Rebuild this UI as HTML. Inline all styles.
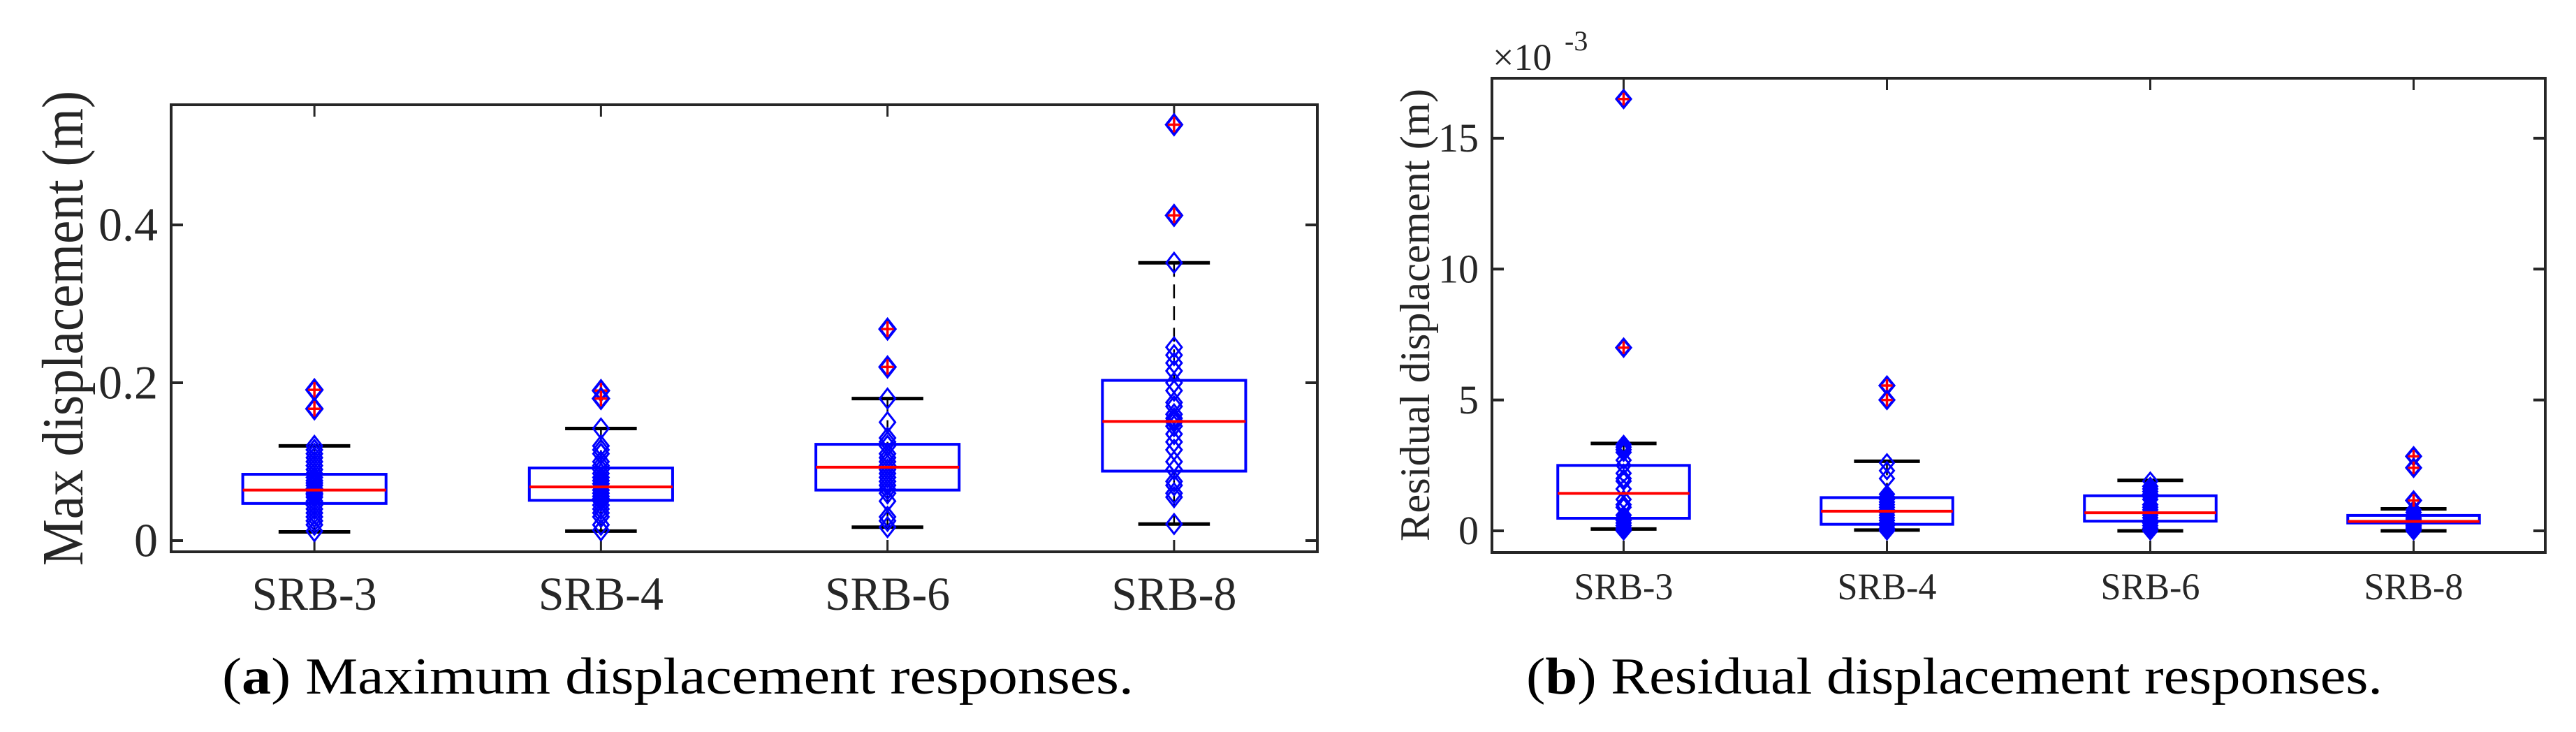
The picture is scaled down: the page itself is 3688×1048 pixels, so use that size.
<!DOCTYPE html>
<html><head><meta charset="utf-8"><style>
html,body{margin:0;padding:0;background:#fff;}
svg{display:block;font-family:"Liberation Serif",serif;}
</style></head><body>
<svg id="fig" width="3688" height="1048" viewBox="0 0 3688 1048" xmlns="http://www.w3.org/2000/svg">
<rect x="0" y="0" width="3688" height="1048" fill="#fff"/>
<g id="chartA"></g>
<g id="chartB"></g>
<text x="318" y="993" font-size="74" textLength="1305" lengthAdjust="spacingAndGlyphs" fill="#000">(<tspan font-weight="bold">a</tspan>) Maximum displacement responses.</text>
<text x="2185" y="993" font-size="74" textLength="1226" lengthAdjust="spacingAndGlyphs" fill="#000">(<tspan font-weight="bold">b</tspan>) Residual displacement responses.</text>
</svg>
<script>
// ---- Chart A data (m) ----
const catsA = ['SRB-3','SRB-4','SRB-6','SRB-8'];
const q1A = [0.047,0.051,0.064,0.088];
const medA = [0.064,0.068,0.093,0.151];
const q3A = [0.084,0.092,0.122,0.203];
const loA = [0.011,0.012,0.017,0.021];
const hiA = [0.120,0.142,0.180,0.352];
const outA = [[0.191,0.167],[0.190,0.180],[0.268,0.220],[0.527,0.412]];
const ptsA = [
 [0.012,0.02,0.025,0.03,0.035,0.04,0.045,0.05,0.055,0.058,0.06,0.063,0.066,0.07,0.073,0.076,0.08,0.085,0.09,0.095,0.1,0.105,0.11,0.115,0.12],
 [0.013,0.02,0.03,0.035,0.04,0.045,0.05,0.053,0.056,0.06,0.064,0.068,0.072,0.076,0.08,0.085,0.09,0.095,0.1,0.11,0.115,0.12,0.142],
 [0.017,0.025,0.03,0.05,0.06,0.065,0.07,0.075,0.08,0.085,0.09,0.095,0.1,0.105,0.11,0.12,0.125,0.13,0.15,0.18],
 [0.021,0.055,0.06,0.07,0.075,0.09,0.1,0.115,0.125,0.135,0.145,0.15,0.152,0.155,0.16,0.17,0.175,0.19,0.2,0.215,0.225,0.235,0.245,0.352]
];
const ticksA = [0,0.2,0.4];
const tickLabelsA = ['0','0.2','0.4'];
// ---- Chart B data (x1e-3 m) ----
const catsB = ['SRB-3','SRB-4','SRB-6','SRB-8'];
const q1B = [0.48,0.25,0.37,0.30];
const medB = [1.43,0.75,0.69,0.36];
const q3B = [2.50,1.27,1.34,0.59];
const loB = [0.07,0.03,0.0,0.0];
const hiB = [3.34,2.66,1.93,0.84];
const outB = [[16.5,7.0],[5.55,5.0],[],[2.85,2.41,1.16]];
const ptsB = [
 [0,0.05,0.1,0.2,0.3,0.4,0.5,0.6,0.9,1.0,1.2,1.6,1.9,2.0,2.2,2.5,2.7,3.0,3.1,3.2,3.3],
 [0,0.05,0.1,0.2,0.3,0.4,0.5,0.6,0.7,0.8,0.9,1.0,1.1,1.2,1.3,1.4,2.0,2.3,2.6],
 [0,0.1,0.2,0.3,0.4,0.5,0.6,0.7,0.8,0.9,1.0,1.2,1.3,1.4,1.5,1.6,1.7,1.9],
 [0,0.05,0.1,0.15,0.2,0.25,0.3,0.35,0.4,0.45,0.5,0.6,0.7,0.8]
];
const ticksB = [0,5,10,15];
const tickLabelsB = ['0','5','10','15'];

const NS='http://www.w3.org/2000/svg';
function mk(parent,tag,attrs){const e=document.createElementNS(NS,tag);for(const k in attrs)e.setAttribute(k,attrs[k]);parent.appendChild(e);return e;}

function drawChart(g,cfg,cats,q1,med,q3,lo,hi,outs,pts,ticks,tlabels){
  const L=cfg.left,R=cfg.right,T=cfg.top,B=cfg.bottom;
  const n=cats.length, step=(R-L)/n;
  const xs=i=>L+step*(i+0.5);
  const ys=v=>B-(v-cfg.ymin)/(cfg.ymax-cfg.ymin)*(B-T);
  const bw=step/2, cw=step/4;
  ticks.forEach((t,i)=>{
    const y=ys(t);
    let a=mk(g,'line',{x1:L,y1:y,x2:L+17,y2:y,stroke:'#262626','stroke-width':4});
    
    
    let b=mk(g,'line',{x1:R-17,y1:y,x2:R,y2:y,stroke:'#262626','stroke-width':4});
    
    
    let tx=mk(g,'text',{x:cfg.tickX,y:y+cfg.tickFs*0.33,'font-size':cfg.tickFs,'text-anchor':'end',fill:'#262626'});
    tx.textContent=tlabels[i];
    
    
  });
  cats.forEach((c,i)=>{
    const x=xs(i);
    let a=mk(g,'line',{x1:x,y1:T,x2:x,y2:T+17,stroke:'#262626','stroke-width':3});
    
    
    let b=mk(g,'line',{x1:x,y1:B-17,x2:x,y2:B,stroke:'#262626','stroke-width':3});
    
    
    let tx=mk(g,'text',{x:x,y:cfg.xlabY,'font-size':cfg.xFs,'text-anchor':'middle',fill:'#262626',textLength:cfg.xLen,lengthAdjust:'spacingAndGlyphs'});
    tx.textContent=c;
    
    
    let w1=mk(g,'line',{x1:x,y1:ys(hi[i]),x2:x,y2:ys(q3[i]),stroke:'#000','stroke-width':2.5,'stroke-dasharray':'20 11'});
    
    
    let w2=mk(g,'line',{x1:x,y1:ys(q1[i]),x2:x,y2:ys(lo[i]),stroke:'#000','stroke-width':2.5,'stroke-dasharray':'20 11'});
    
    
    let c1=mk(g,'line',{x1:x-cw/2,y1:ys(hi[i]),x2:x+cw/2,y2:ys(hi[i]),stroke:'#000','stroke-width':5});
    
    
    let c2=mk(g,'line',{x1:x-cw/2,y1:ys(lo[i]),x2:x+cw/2,y2:ys(lo[i]),stroke:'#000','stroke-width':5});
    
    
    let bx=mk(g,'rect',{x:x-bw/2,y:ys(q3[i]),width:bw,height:ys(q1[i])-ys(q3[i]),fill:'none',stroke:'#0000ff','stroke-width':4});
    
    
    pts[i].forEach(v=>{
      const y=ys(v);
      let d=mk(g,'path',{d:`M${x},${y-cfg.dh}L${x+cfg.dw},${y}L${x},${y+cfg.dh}L${x-cfg.dw},${y}Z`,fill:'none',stroke:'#0000ff','stroke-width':3});
      
      
    });
    let m=mk(g,'line',{x1:x-bw/2,y1:ys(med[i]),x2:x+bw/2,y2:ys(med[i]),stroke:'#ff0000','stroke-width':4});
    
    
    outs[i].forEach(v=>{
      const y=ys(v);
      let d=mk(g,'path',{d:`M${x},${y-cfg.dh}L${x+cfg.dw},${y}L${x},${y+cfg.dh}L${x-cfg.dw},${y}Z`,fill:'none',stroke:'#0000ff','stroke-width':4});
      
      
      let p=mk(g,'path',{d:`M${x-cfg.dw+2},${y}H${x+cfg.dw-2}M${x},${y-cfg.dh+3}V${y+cfg.dh-3}`,stroke:'#ff0000','stroke-width':3.5,fill:'none'});
      
      
    });
  });
  let fr=mk(g,'rect',{x:L,y:T,width:R-L,height:B-T,fill:'none',stroke:'#262626','stroke-width':4});
  
  
  let yl=mk(g,'text',{x:0,y:0,'font-size':cfg.ylFs,'text-anchor':'middle',fill:'#262626',textLength:cfg.ylLen,lengthAdjust:'spacingAndGlyphs',transform:`translate(${cfg.ylX},${cfg.ylY}) rotate(-90)`});
  yl.textContent=cfg.ylabel;
  
  
}

drawChart(document.getElementById('chartA'),
 {left:245,right:1886,top:150,bottom:790,ymin:-0.0142,ymax:0.5522,tickX:226,tickFs:68,xlabY:873,xFs:68,xLen:179,dw:11,dh:14,
  ylFs:84,ylLen:680,ylX:118,ylY:470,ylabel:'Max  displacement (m)'},
 catsA,q1A,medA,q3A,loA,hiA,outA,ptsA,ticksA,tickLabelsA);

drawChart(document.getElementById('chartB'),
 {left:2136,right:3644,top:112,bottom:791,ymin:-0.827,ymax:17.293,tickX:2117,tickFs:58,xlabY:858,xFs:54,xLen:142,dw:10,dh:12,
  ylFs:60,ylLen:648,ylX:2046,ylY:451,ylabel:'Residual displacement (m)'},
 catsB,q1B,medB,q3B,loB,hiB,outB,ptsB,ticksB,tickLabelsB);

(function(){
  const svg=document.getElementById('fig');
  let t=mk(svg,'text',{x:2137,y:100,'font-size':54,fill:'#262626'});
  t.textContent='×10';
  
  
  let s=mk(svg,'text',{x:2240,y:72,'font-size':40,fill:'#262626'});
  s.textContent='-3';
  
  
})();
</script>
</body></html>
